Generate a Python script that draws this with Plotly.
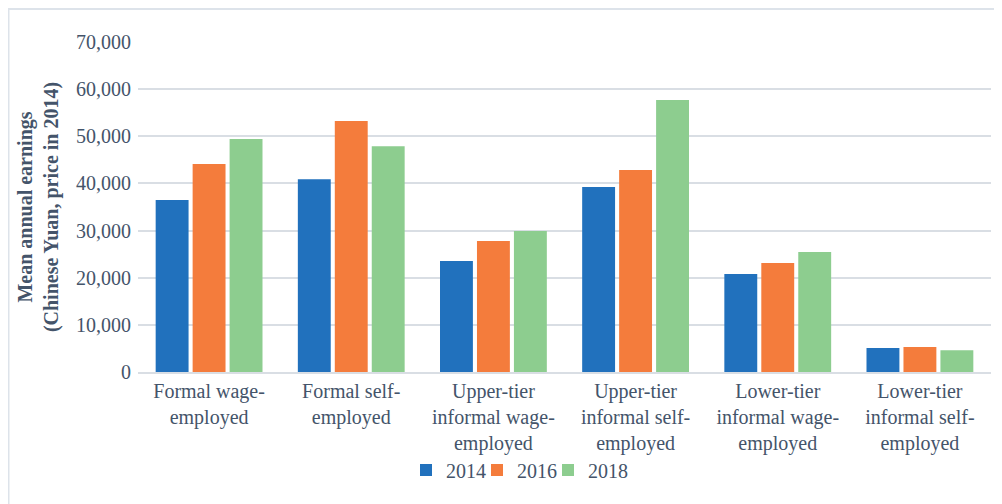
import plotly.graph_objects as go

categories = ["Formal wage-<br>employed", "Formal self-<br>employed",
              "Upper-tier<br>informal wage-<br>employed", "Upper-tier<br>informal self-<br>employed",
              "Lower-tier<br>informal wage-<br>employed", "Lower-tier<br>informal self-<br>employed"]
years = ["2014", "2016", "2018"]
v2014 = [36500, 40900, 23550, 39250, 20800, 5100]
v2016 = [44100, 53250, 27800, 42850, 23100, 5300]
v2018 = [49400, 47900, 29900, 57700, 25450, 4600]
tick_vals = [0, 10000, 20000, 30000, 40000, 50000, 60000, 70000]
tick_text = ["0", "10,000", "20,000", "30,000", "40,000", "50,000", "60,000", "70,000"]

colors = ["#2171bd", "#f47c3c", "#8dcd8f"]
txt = "#44546a"
font_family = "Liberation Serif, DejaVu Serif, serif"

OFF = 8  # page body margin
W, H = 1002 - OFF, 504 - OFF
# target screen plot area: x 138..991, y 42..372
L, R, T, B = 138 - OFF, W - (991 - OFF), 42 - OFF, H - (372 - OFF)
pw, ph = W - L - R, H - T - B

def px_x(sx):
    return (sx - OFF - L) / pw

def px_y(sy):
    return (H - B - (sy - OFF)) / ph

legend_names = ["legend", "legend2", "legend3"]
legend_left = [406, 477, 548]

fig = go.Figure()
for name, vals, col, lg in zip(years, [v2014, v2016, v2018], colors, legend_names):
    fig.add_trace(go.Bar(x=categories, y=vals, name=name, legend=lg,
                         marker=dict(color=col, line=dict(width=0))))

legend_common = dict(orientation="h", xanchor="left", yanchor="middle",
                     font=dict(family=font_family, size=20, color=txt), itemwidth=30,
                     bgcolor="rgba(0,0,0,0)")

fig.update_layout(
    width=W, height=H,
    margin=dict(l=L, r=R, t=T, b=B),
    paper_bgcolor="white", plot_bgcolor="white",
    barmode="group", bargap=0.22, bargroupgap=0.11,
    font=dict(family=font_family, color=txt, size=20),
    showlegend=True,
    legend=dict(x=px_x(legend_left[0]), y=px_y(470), **legend_common),
    legend2=dict(x=px_x(legend_left[1]), y=px_y(470), **legend_common),
    legend3=dict(x=px_x(legend_left[2]), y=px_y(470), **legend_common),
    xaxis=dict(showgrid=False, showline=True, linecolor="#d9dee4", linewidth=2,
               tickfont=dict(family=font_family, size=20, color=txt), ticks=""),
    yaxis=dict(range=[0, 70000], tickvals=tick_vals, ticktext=tick_text,
               showgrid=True, gridcolor="#d9dee4", gridwidth=2, zeroline=False,
               tickfont=dict(family=font_family, size=20, color=txt), ticks="", ticklabelstandoff=6,
               title=dict(text="<b>Mean annual earnings<br>(Chinese Yuan, price in 2014)</b>",
                          font=dict(family=font_family, size=20, color=txt), standoff=12)),
    shapes=[dict(type="rect", xref="paper", yref="paper",
                 x0=px_x(8.5), x1=px_x(998), y0=px_y(530), y1=px_y(9),
                 line=dict(color="#dde3ea", width=2), fillcolor="rgba(0,0,0,0)", layer="below")],
)

fig.write_html("out.html")
